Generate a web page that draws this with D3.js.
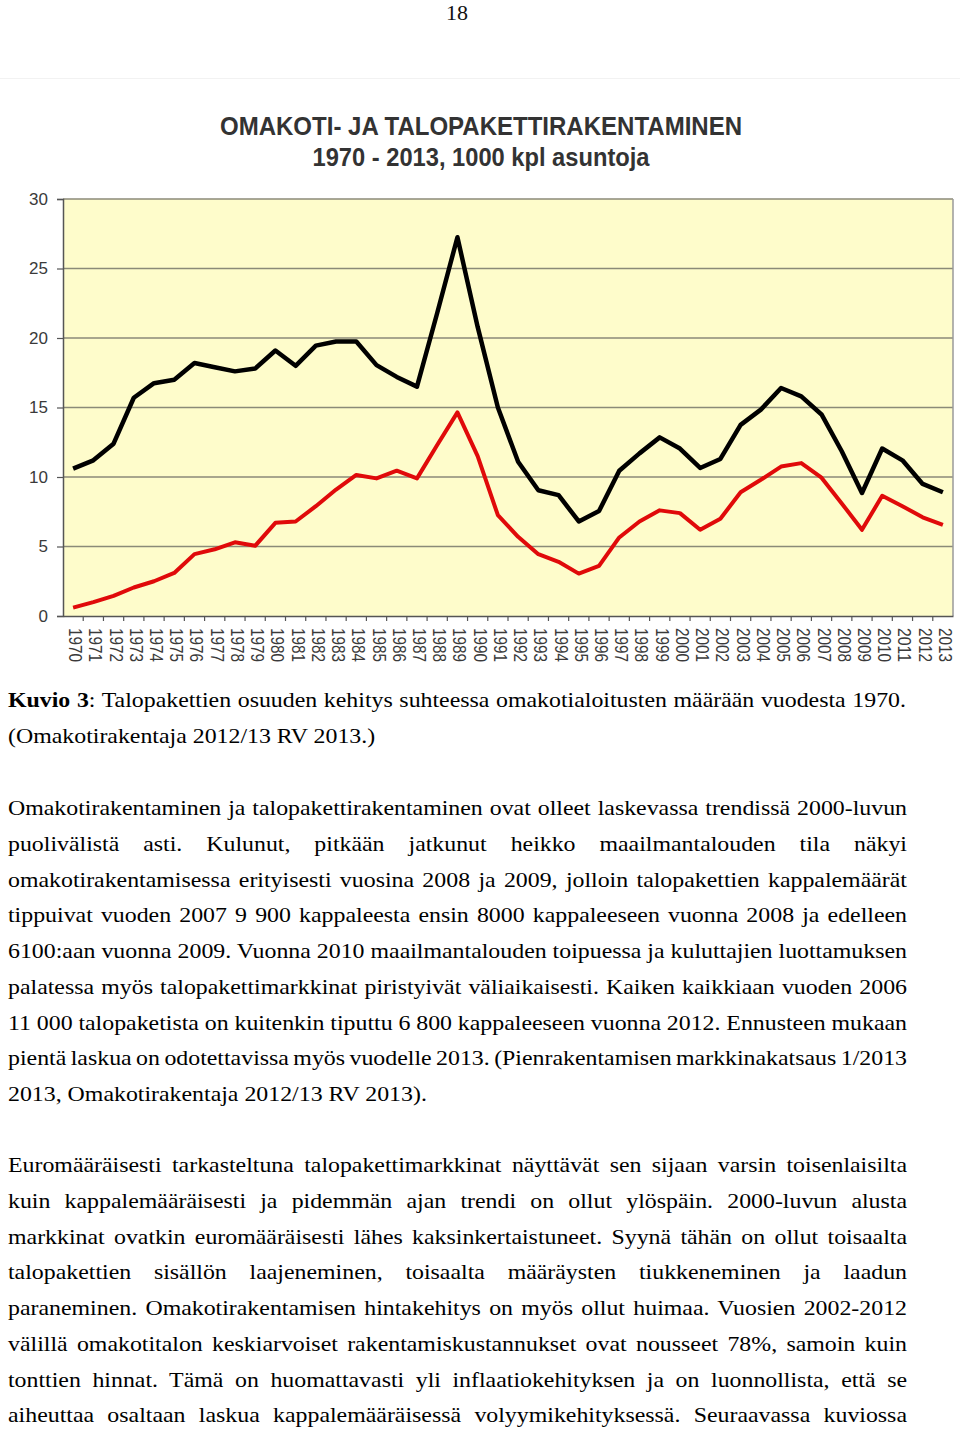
<!DOCTYPE html>
<html>
<head>
<meta charset="utf-8">
<script src="https://cdn.jsdelivr.net/npm/d3@7"></script>
<style>
  html, body { margin: 0; padding: 0; background: #fff; }
  svg { display: block; }
</style>
</head>
<body>
<svg id="page" width="960" height="1429"></svg>
<script>
// ---- data ----
const years = d3.range(1970, 2014);
const omakoti = [10.6, 11.2, 12.4, 15.7, 16.75, 17.0, 18.2, 17.9, 17.6, 17.8,
  19.1, 18.0, 19.45, 19.75, 19.75, 18.05, 17.2, 16.5, 21.8, 27.25,
  20.8, 15.0, 11.1, 9.05, 8.7, 6.8, 7.55, 10.45, 11.7, 12.85,
  12.05, 10.65, 11.3, 13.75, 14.85, 16.4, 15.8, 14.5, 11.85, 8.85,
  12.05, 11.2, 9.5, 8.9];
const talopaketti = [0.6, 1.0, 1.45, 2.05, 2.5, 3.1, 4.45, 4.8, 5.3, 5.05,
  6.7, 6.8, 7.9, 9.1, 10.15, 9.9, 10.45, 9.9, 12.3, 14.65,
  11.5, 7.25, 5.7, 4.45, 3.9, 3.05, 3.6, 5.65, 6.8, 7.6,
  7.4, 6.2, 7.0, 8.9, 9.8, 10.75, 11.0, 9.95, 8.1, 6.2,
  8.65, 7.9, 7.1, 6.55];
const yTicks = [0, 5, 10, 15, 20, 25, 30];
const titleLines = ["OMAKOTI- JA TALOPAKETTIRAKENTAMINEN", "1970 - 2013, 1000 kpl asuntoja"];
const pageNumber = "18";
const captionLines = [
  {bold: "Kuvio 3", text: ": Talopakettien osuuden kehitys suhteessa omakotialoitusten määrään vuodesta 1970.", width: 898},
  {text: "(Omakotirakentaja 2012/13 RV 2013.)", width: 0}
];
const para1 = [
  "Omakotirakentaminen ja talopakettirakentaminen ovat olleet laskevassa trendissä 2000-luvun",
  "puolivälistä asti. Kulunut, pitkään jatkunut heikko maailmantalouden tila näkyi",
  "omakotirakentamisessa erityisesti vuosina 2008 ja 2009, jolloin talopakettien kappalemäärät",
  "tippuivat vuoden 2007 9 900 kappaleesta ensin 8000 kappaleeseen vuonna 2008 ja edelleen",
  "6100:aan vuonna 2009. Vuonna 2010 maailmantalouden toipuessa ja kuluttajien luottamuksen",
  "palatessa myös talopakettimarkkinat piristyivät väliaikaisesti. Kaiken kaikkiaan vuoden 2006",
  "11 000 talopaketista on kuitenkin tiputtu 6 800 kappaleeseen vuonna 2012. Ennusteen mukaan",
  "pientä laskua on odotettavissa myös vuodelle 2013. (Pienrakentamisen markkinakatsaus 1/2013",
  "2013, Omakotirakentaja 2012/13 RV 2013)."
];
const para2 = [
  "Euromääräisesti tarkasteltuna talopakettimarkkinat näyttävät sen sijaan varsin toisenlaisilta",
  "kuin kappalemääräisesti ja pidemmän ajan trendi on ollut ylöspäin. 2000-luvun alusta",
  "markkinat ovatkin euromääräisesti lähes kaksinkertaistuneet. Syynä tähän on ollut toisaalta",
  "talopakettien sisällön laajeneminen, toisaalta määräysten tiukkeneminen ja laadun",
  "paraneminen. Omakotirakentamisen hintakehitys on myös ollut huimaa. Vuosien 2002-2012",
  "välillä omakotitalon keskiarvoiset rakentamiskustannukset ovat nousseet 78%, samoin kuin",
  "tonttien hinnat. Tämä on huomattavasti yli inflaatiokehityksen ja on luonnollista, että se",
  "aiheuttaa osaltaan laskua kappalemääräisessä volyymikehityksessä. Seuraavassa kuviossa"
];

// ---- page ----
const svg = d3.select("#page");
svg.append("rect").attr("width", 960).attr("height", 1429).attr("fill", "#fff");

svg.append("text").attr("x", 457).attr("y", 20).attr("text-anchor", "middle")
  .attr("font-family", "'Liberation Serif', 'Times New Roman', serif")
  .attr("font-size", 22).attr("fill", "#111").text(pageNumber);

svg.append("line").attr("x1", 0).attr("x2", 960).attr("y1", 78.5).attr("y2", 78.5)
  .attr("stroke", "#f2f2f2").attr("stroke-width", 1);

// ---- chart ----
const L = 63, R = 953, T = 199, B = 616;
const x = d3.scaleBand().domain(years).range([L, R]).padding(0);
const xc = d => x(d) + x.bandwidth() / 2;
const y = d3.scaleLinear().domain([0, 30]).range([B, T]);

const chart = svg.append("g");

// title
const titleFont = "'Liberation Sans', Arial, sans-serif";
chart.append("text").attr("x", 481).attr("y", 135).attr("text-anchor", "middle")
  .attr("font-family", titleFont).attr("font-weight", "bold").attr("font-size", 25)
  .attr("fill", "#333").attr("textLength", 522).attr("lengthAdjust", "spacingAndGlyphs")
  .text(titleLines[0]);
chart.append("text").attr("x", 481).attr("y", 166).attr("text-anchor", "middle")
  .attr("font-family", titleFont).attr("font-weight", "bold").attr("font-size", 25)
  .attr("fill", "#333").attr("textLength", 337).attr("lengthAdjust", "spacingAndGlyphs")
  .text(titleLines[1]);

// plot background
chart.append("rect").attr("x", L).attr("y", T).attr("width", R - L).attr("height", B - T)
  .attr("fill", "#fefccb");

// gridlines
chart.append("g").selectAll("line").data(yTicks.filter(d => d > 0)).join("line")
  .attr("x1", L).attr("x2", R).attr("y1", d => y(d)).attr("y2", d => y(d))
  .attr("stroke", "#8b8a78").attr("stroke-width", 1.5);

// right border
chart.append("line").attr("x1", R).attr("x2", R).attr("y1", T).attr("y2", B)
  .attr("stroke", "#9a9a9a").attr("stroke-width", 1.5);

// y axis
const yAxis = chart.append("g").attr("transform", `translate(${L},0)`)
  .call(d3.axisLeft(y).tickValues(yTicks).tickSize(6).tickPadding(9));
yAxis.select(".domain").attr("stroke", "#555").attr("stroke-width", 1.5);
yAxis.selectAll(".tick line").attr("stroke", "#555").attr("stroke-width", 1.2);
yAxis.selectAll(".tick text").attr("font-family", titleFont).attr("font-size", 17)
  .attr("fill", "#3a3a3a");

// x axis
const xAxis = chart.append("g").attr("transform", `translate(0,${B})`)
  .call(d3.axisBottom(x).tickSize(0).tickPadding(0));
xAxis.select(".domain").attr("stroke", "#555").attr("stroke-width", 1.5);
xAxis.selectAll(".tick text")
  .attr("font-family", titleFont).attr("font-size", 18).attr("fill", "#3a3a3a")
  .attr("text-anchor", "start").attr("dy", null)
  .attr("dominant-baseline", "central")
  .attr("transform", "translate(2,12) rotate(90)")
  .attr("textLength", 34).attr("lengthAdjust", "spacingAndGlyphs");
// tick marks at category boundaries
chart.append("g").selectAll("line").data(years.slice(1)).join("line")
  .attr("x1", d => x(d)).attr("x2", d => x(d)).attr("y1", B).attr("y2", B + 5)
  .attr("stroke", "#555").attr("stroke-width", 1.2);

// lines
const line = d3.line().x((d, i) => xc(years[i])).y(d => y(d));
chart.append("path").datum(talopaketti).attr("d", line)
  .attr("fill", "none").attr("stroke", "#e00a0a").attr("stroke-width", 4)
  .attr("stroke-linejoin", "round");
chart.append("path").datum(omakoti).attr("d", line)
  .attr("fill", "none").attr("stroke", "#000").attr("stroke-width", 4.5)
  .attr("stroke-linejoin", "round");

// ---- body text ----
const serif = "'Liberation Serif', 'Times New Roman', serif";
const textLeft = 8, textRight = 907, fs = 22;
const body = svg.append("g").attr("font-family", serif).attr("font-size", fs).attr("fill", "#000");

// condensation factor from a natural (unjustified) line of the body text
const probe = body.append("text").text(para1[para1.length - 1]);
const sx = 419 / probe.node().getComputedTextLength();
probe.remove();

function addLine(baseline, spec) {
  const t = body.append("text")
    .attr("transform", `translate(${textLeft},${baseline}) scale(${sx},1)`)
    .attr("x", 0).attr("y", 0);
  if (spec.bold) {
    t.append("tspan").attr("font-weight", "bold").text(spec.bold);
    t.append("tspan").text(spec.text);
  } else {
    t.text(spec.text);
  }
  const width = spec.width != null ? spec.width : (textRight - textLeft);
  if (spec.width !== 0) {
    const w = t.node().getComputedTextLength();
    const full = (spec.bold || "") + spec.text;
    const n = (full.match(/ /g) || []).length;
    const target = width / sx;
    if (n > 0) t.style("word-spacing", ((target - w) / n) + "px");
  }
}

const lh = 35.75;
captionLines.forEach((c, i) => addLine(707 + i * lh, c));
para1.forEach((s, i) => addLine(815 + i * lh, {text: s, width: i < para1.length - 1 ? undefined : 0}));
para2.forEach((s, i) => addLine(1172 + i * lh, {text: s}));
</script>
</body>
</html>
